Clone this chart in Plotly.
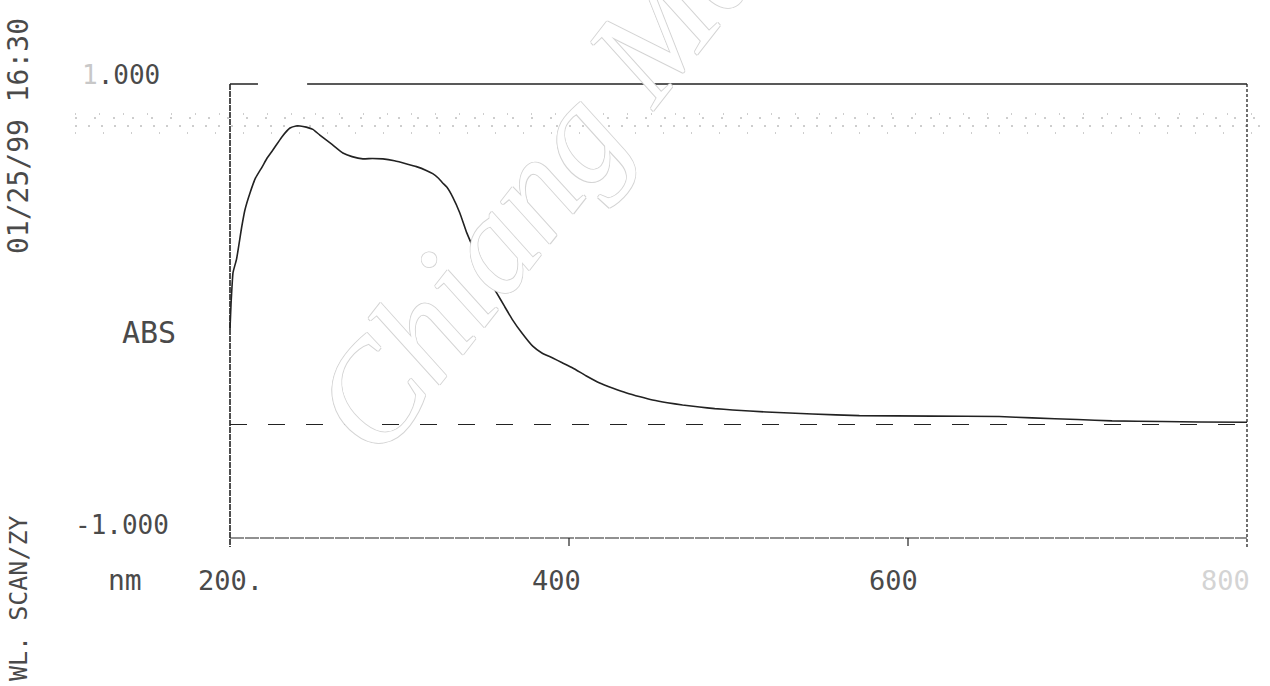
import plotly.graph_objects as go

# Absorbance scan, 200-800 nm
wavelength_nm = [200.0, 200.6, 201.2, 201.8, 203.9, 206.9, 208.8, 211.8, 215.0, 218.9,
                 222.0, 225.3, 230.6, 235.4, 239.0, 241.3, 245.0, 248.9, 253.0, 260.0,
                 266.6, 272.0, 278.4, 284.0, 290.2, 297.0, 304.3, 310.0, 316.1, 319.6,
                 323.0, 325.5, 327.9, 331.4, 335.6, 339.7, 343.0, 347.3, 352.0, 357.4,
                 362.0, 366.8, 372.0, 378.6, 384.0, 390.4, 396.0, 402.2, 410.0, 418.1,
                 426.0, 434.0, 442.0, 449.3, 458.0, 467.0, 477.0, 486.0, 496.5, 516.5,
                 543.6, 571.3, 614.3, 653.8, 673.3, 700.0, 720.4, 750.0, 771.7, 800.0]
absorbance = [-0.080, 0.030, 0.110, 0.170, 0.230, 0.370, 0.445, 0.520, 0.585, 0.634,
              0.675, 0.709, 0.767, 0.806, 0.815, 0.815, 0.810, 0.800, 0.775, 0.735,
              0.696, 0.680, 0.670, 0.672, 0.670, 0.662, 0.648, 0.636, 0.618, 0.605,
              0.585, 0.564, 0.546, 0.502, 0.432, 0.344, 0.286, 0.211, 0.145, 0.079,
              0.020, -0.040, -0.095, -0.155, -0.185, -0.207, -0.228, -0.251, -0.285, -0.317,
              -0.340, -0.361, -0.378, -0.392, -0.404, -0.414, -0.423, -0.430, -0.436, -0.445,
              -0.454, -0.461, -0.463, -0.465, -0.471, -0.478, -0.484, -0.487, -0.489, -0.490]

x_ticks = [200, 400, 600, 800]
x_tick_text = ["200.", "400", "600", "800"]
y_top_label = "1.000"
y_bottom_label = "-1.000"
baseline_abs = -0.5

W, H = 1270, 686
MONO = "DejaVu Sans Mono"
INK = "#222222"
TXT = "#4a4a4a"


def px(x):
    return x / W


def py(y):
    return 1 - y / H


fig = go.Figure()

fig.add_trace(go.Scatter(
    x=wavelength_nm, y=absorbance, mode="lines",
    line=dict(color=INK, width=1.6, shape="spline", smoothing=0.4),
    hoverinfo="skip", showlegend=False,
))

shapes = []
# frame
shapes.append(dict(type="line", xref="x", yref="y", x0=200, x1=216.5, y0=1, y1=1,
                   line=dict(color=INK, width=1.3)))
shapes.append(dict(type="line", xref="x", yref="y", x0=245.5, x1=800, y0=1, y1=1,
                   line=dict(color=INK, width=1.3)))
shapes.append(dict(type="line", xref="x", yref="y", x0=200, x1=200, y0=1, y1=-1.04,
                   line=dict(color=INK, width=1.6, dash="6px,1px")))
shapes.append(dict(type="line", xref="x", yref="y", x0=200, x1=800, y0=-1, y1=-1,
                   line=dict(color=INK, width=1.2, dash="14px,1px")))
shapes.append(dict(type="line", xref="x", yref="y", x0=800, x1=800, y0=1, y1=-1.04,
                   line=dict(color=INK, width=1.3, dash="3px,2px")))
# tick marks below the bottom edge
for t in x_ticks[1:3]:
    shapes.append(dict(type="line", xref="x", yref="y", x0=t, x1=t, y0=-1, y1=-1.035,
                       line=dict(color=INK, width=1.2)))
# dashed baseline
shapes.append(dict(type="line", xref="x", yref="y", x0=200, x1=800,
                   y0=baseline_abs, y1=baseline_abs,
                   line=dict(color=INK, width=1.2, dash="17px,21px")))
# faint dotted printer rows across the top
for yy, dd in [(114, "1px,23px"), (118, "2px,17px"), (126, "2px,11px"), (133, "1px,27px")]:
    shapes.append(dict(type="line", xref="paper", yref="paper", x0=px(75), x1=px(1262),
                       y0=py(yy), y1=py(yy), layer="below",
                       line=dict(color="#9c9c9c", width=1, dash=dd)))

annotations = []


def label(text, x, y, size=26, anchor="center", color=TXT, angle=0):
    annotations.append(dict(text=text, xref="paper", yref="paper", x=px(x), y=py(y),
                            xanchor=anchor, yanchor="middle", showarrow=False,
                            textangle=angle,
                            font=dict(family=MONO, size=size, color=color)))


label('<span style="color:#c8c8c8">' + y_top_label[0] + '</span>' + y_top_label[1:],
      162, 75, anchor="right")
label("ABS", 149, 333, size=30)
label(y_bottom_label, 171, 525, anchor="right")
label("nm", 125, 580, size=28)
label("01/25/99 16:30", 18, 136, size=28, angle=-90)
label("WL. SCAN/ZY", 18, 598, size=25, angle=-90)

tick_shift = [-34, -13, -15, -22]
tick_anchor = ["left", "center", "center", "center"]
tick_color = [TXT, TXT, TXT, "#d4d4d4"]
for t, s, sh, an, c in zip(x_ticks, x_tick_text, tick_shift, tick_anchor, tick_color):
    annotations.append(dict(text=s, xref="x", yref="paper", x=t, y=py(580),
                            xshift=sh, xanchor=an, yanchor="middle", showarrow=False,
                            font=dict(family=MONO, size=27, color=c)))

# outlined watermark
annotations.append(dict(text="Chiang Mai", xref="paper", yref="paper",
                        x=px(548), y=py(168), xanchor="center", yanchor="middle",
                        showarrow=False, textangle=-52,
                        font=dict(family="Liberation Serif", size=140, style="italic",
                                  color="white",
                                  shadow="1px 0 #d4d4d4, -1px 0 #d4d4d4, 0 1px #d4d4d4, 0 -1px #d4d4d4")))

# axis ranges padded slightly around the 200-800 nm / -1..1 frame
x_lo, x_hi = 190, 810
y_lo, y_hi = -1.06, 1.03
ppn = (1247 - 230) / 600.0
ppa = (538 - 84) / 2.0
left_px = 230 - (200 - x_lo) * ppn
right_px = 1247 + (x_hi - 800) * ppn
top_px = 84 - (y_hi - 1) * ppa
bot_px = 538 + (-1 - y_lo) * ppa

fig.update_layout(
    width=W, height=H,
    margin=dict(l=0, r=0, t=0, b=0),
    paper_bgcolor="white", plot_bgcolor="white",
    xaxis=dict(range=[x_lo, x_hi], domain=[px(left_px), px(right_px)],
               visible=False, showgrid=False, zeroline=False),
    yaxis=dict(range=[y_lo, y_hi], domain=[py(bot_px), py(top_px)],
               visible=False, showgrid=False, zeroline=False),
    shapes=shapes, annotations=annotations, showlegend=False,
)

fig.write_html("out.html")
